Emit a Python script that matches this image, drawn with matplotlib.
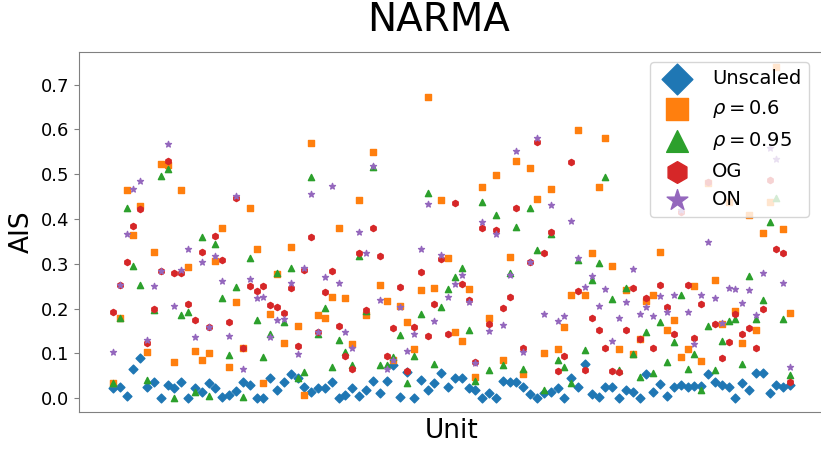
import numpy as np
import matplotlib
matplotlib.use("Agg")
import matplotlib.pyplot as plt

# AIS per reservoir unit for each scaling scheme
unscaled = [0.022, 0.025, 0.004, 0.064, 0.089, 0.025, 0.036, 0.0, 0.029, 0.022,
            0.036, 0.0, 0.022, 0.014, 0.034, 0.022, 0.002, 0.007, 0.016, 0.036,
            0.029, 0.0, 0.001, 0.044, 0.019, 0.035, 0.054, 0.044, 0.025, 0.014,
            0.022, 0.022, 0.036, 0.001, 0.008, 0.022, 0.005, 0.018, 0.039, 0.012,
            0.039, 0.074, 0.003, 0.059, 0.0, 0.04, 0.018, 0.034, 0.055, 0.025,
            0.044, 0.046, 0.022, 0.019, 0.001, 0.012, 0.0, 0.039, 0.036, 0.035,
            0.024, 0.01, 0.0, 0.012, 0.014, 0.023, 0.0, 0.046, 0.025, 0.076,
            0.009, 0.003, 0.024, 0.024, 0.0, 0.018, 0.014, 0.0, 0.054, 0.014,
            0.031, 0.004, 0.024, 0.029, 0.025, 0.027, 0.027, 0.054, 0.036, 0.029,
            0.025, 0.0, 0.033, 0.018, 0.055, 0.057, 0.012, 0.029, 0.024, 0.029]

rho_06 = [0.033, 0.18, 0.465, 0.364, 0.429, 0.104, 0.327, 0.523, 0.52, 0.081,
          0.465, 0.293, 0.105, 0.085, 0.1, 0.307, 0.379, 0.069, 0.215, 0.111,
          0.424, 0.332, 0.033, 0.188, 0.277, 0.122, 0.337, 0.161, 0.007, 0.569,
          0.185, 0.178, 0.226, 0.381, 0.224, 0.12, 0.442, 0.185, 0.549, 0.252,
          0.217, 0.086, 0.206, 0.171, 0.109, 0.241, 0.673, 0.245, 0.442, 0.314,
          0.148, 0.127, 0.243, 0.048, 0.472, 0.18, 0.499, 0.085, 0.316, 0.53,
          0.053, 0.513, 0.445, 0.1, 0.467, 0.109, 0.159, 0.23, 0.599, 0.23,
          0.325, 0.471, 0.58, 0.296, 0.109, 0.241, 0.098, 0.131, 0.217, 0.23,
          0.327, 0.153, 0.174, 0.091, 0.109, 0.251, 0.083, 0.48, 0.264, 0.165,
          0.439, 0.195, 0.124, 0.409, 0.153, 0.368, 0.439, 0.739, 0.377, 0.189]

rho_095 = [0.034, 0.18, 0.425, 0.295, 0.252, 0.04, 0.197, 0.496, 0.511, 0.0,
           0.185, 0.193, 0.014, 0.36, 0.004, 0.344, 0.223, 0.096, 0.249, 0.003,
           0.312, 0.174, 0.092, 0.144, 0.279, 0.17, 0.29, 0.044, 0.059, 0.494,
           0.143, 0.202, 0.069, 0.13, 0.104, 0.074, 0.317, 0.195, 0.517, 0.074,
           0.074, 0.092, 0.141, 0.033, 0.094, 0.188, 0.457, 0.077, 0.203, 0.243,
           0.271, 0.291, 0.152, 0.038, 0.439, 0.063, 0.409, 0.074, 0.279, 0.383,
           0.066, 0.424, 0.331, 0.018, 0.366, 0.086, 0.069, 0.033, 0.308, 0.107,
           0.264, 0.301, 0.493, 0.222, 0.062, 0.246, 0.098, 0.048, 0.148, 0.055,
           0.171, 0.081, 0.126, 0.23, 0.064, 0.098, 0.018, 0.161, 0.063, 0.128,
           0.173, 0.176, 0.076, 0.273, 0.176, 0.219, 0.394, 0.448, 0.176, 0.051]

og = [0.193, 0.252, 0.303, 0.384, 0.422, 0.124, 0.2, 0.284, 0.53, 0.28,
      0.28, 0.211, 0.174, 0.327, 0.158, 0.362, 0.308, 0.171, 0.448, 0.112,
      0.251, 0.239, 0.251, 0.208, 0.204, 0.191, 0.245, 0.117, 0.287, 0.36,
      0.147, 0.238, 0.284, 0.162, 0.094, 0.066, 0.325, 0.197, 0.379, 0.318,
      0.095, 0.156, 0.248, 0.061, 0.159, 0.282, 0.139, 0.211, 0.311, 0.144,
      0.435, 0.254, 0.219, 0.081, 0.379, 0.165, 0.375, 0.202, 0.225, 0.424,
      0.112, 0.305, 0.573, 0.325, 0.372, 0.06, 0.095, 0.527, 0.24, 0.063,
      0.178, 0.153, 0.111, 0.06, 0.059, 0.152, 0.245, 0.131, 0.223, 0.113,
      0.252, 0.204, 0.144, 0.415, 0.252, 0.135, 0.211, 0.483, 0.165, 0.089,
      0.126, 0.188, 0.143, 0.156, 0.112, 0.2, 0.487, 0.333, 0.323, 0.036]

on = [0.102, 0.252, 0.366, 0.466, 0.486, 0.13, 0.25, 0.284, 0.567, 0.206,
      0.286, 0.334, 0.136, 0.305, 0.158, 0.317, 0.262, 0.139, 0.451, 0.064,
      0.267, 0.223, 0.226, 0.136, 0.174, 0.176, 0.258, 0.098, 0.291, 0.455,
      0.147, 0.27, 0.474, 0.258, 0.147, 0.111, 0.37, 0.325, 0.518, 0.22,
      0.066, 0.086, 0.204, 0.105, 0.143, 0.334, 0.433, 0.172, 0.319, 0.226,
      0.255, 0.275, 0.215, 0.079, 0.393, 0.15, 0.366, 0.163, 0.274, 0.553,
      0.104, 0.305, 0.581, 0.188, 0.432, 0.172, 0.184, 0.395, 0.314, 0.249,
      0.273, 0.206, 0.244, 0.128, 0.178, 0.215, 0.288, 0.188, 0.204, 0.184,
      0.229, 0.193, 0.23, 0.42, 0.193, 0.121, 0.23, 0.349, 0.224, 0.168,
      0.247, 0.243, 0.213, 0.241, 0.185, 0.279, 0.558, 0.533, 0.258, 0.07]

labels = ['Unscaled', r'$\rho = 0.6$', r'$\rho = 0.95$', 'OG', 'ON']
markers = ['D', 's', '^', 'h', '*']
colors = ['#1f77b4', '#ff7f0e', '#2ca02c', '#d62728', '#9467bd']


def main():
    units = np.arange(len(unscaled))
    series = [unscaled, rho_06, rho_095, og, on]

    fig = plt.figure(figsize=(8.21, 4.5), dpi=100)
    # right edge of the axes sits just past the figure border
    ax = fig.add_axes([79 / 821, 38 / 450, 745 / 821, 360 / 450])

    for values, lab, mk, col in zip(series, labels, markers, colors):
        ax.scatter(units, values, s=20, marker=mk, color=col, label=lab)

    ax.set_ylim(-0.031, 0.773)
    ax.set_xticks([])
    ax.set_yticks(np.arange(0, 0.75, 0.1))
    ax.tick_params(axis='y', labelsize=13, color='#808080')
    for sp in ax.spines.values():
        sp.set_color('#808080')
    ax.spines['right'].set_visible(False)

    ax.set_ylabel('AIS', fontsize=19)
    ax.set_xlabel('Unit', fontsize=19, labelpad=4)
    fig.text(439 / 821, 1 - 20 / 450, 'NARMA', fontsize=28, ha='center', va='center')

    ax.legend(loc='upper right', bbox_to_anchor=(1 - 5 / 745, 1), fontsize=14, markerscale=3.5)

    fig.savefig('out.png', dpi=100)


if __name__ == "__main__":
    main()
